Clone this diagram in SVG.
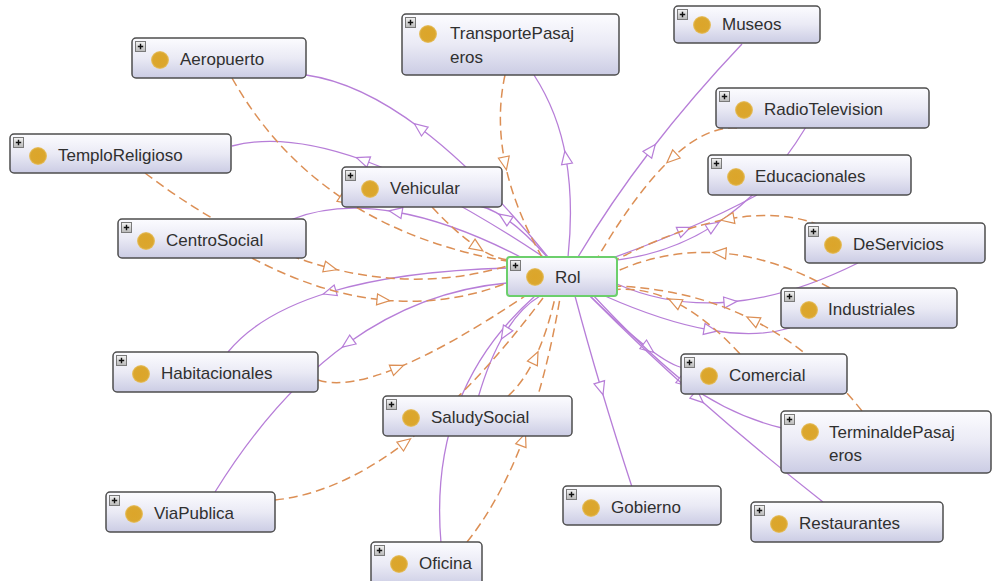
<svg xmlns="http://www.w3.org/2000/svg" xmlns:xlink="http://www.w3.org/1999/xlink" width="992" height="581" viewBox="0 0 992 581">
  <defs>
    <linearGradient id="boxfill" x1="0" y1="0" x2="0" y2="1">
      <stop offset="0" stop-color="#fcfcff"/>
      <stop offset="0.5" stop-color="#eaeaf5"/>
      <stop offset="1" stop-color="#cbcce4"/>
    </linearGradient>
    <linearGradient id="plusfill" x1="0" y1="0" x2="0" y2="1">
      <stop offset="0" stop-color="#f4f4f4"/>
      <stop offset="1" stop-color="#b8b8b8"/>
    </linearGradient>
    <radialGradient id="dotfill" cx="0.5" cy="0.5" r="0.5">
      <stop offset="0" stop-color="#dca52a"/>
      <stop offset="0.8" stop-color="#dba72e"/>
      <stop offset="1" stop-color="#e8c46e"/>
    </radialGradient>
    <!-- hollow triangle arrowheads, placed at the interior vertex of each edge -->
    <marker id="ap" viewBox="-10 -10 20 20" markerWidth="20" markerHeight="20" refX="0" refY="0" orient="auto" markerUnits="userSpaceOnUse">
      <path d="M7,0 L-6,-5.5 L-6,5.5 Z" fill="#ffffff" stroke="#b77ed8" stroke-width="1.2"/>
    </marker>
    <marker id="ao" viewBox="-10 -10 20 20" markerWidth="20" markerHeight="20" refX="0" refY="0" orient="auto" markerUnits="userSpaceOnUse">
      <path d="M7,0 L-6,-5.5 L-6,5.5 Z" fill="#ffffff" stroke="#dc8f55" stroke-width="1.2"/>
    </marker>
    <g id="plus">
      <rect x="3.5" y="3.5" width="10" height="10" fill="url(#plusfill)" stroke="#7a7a7a" stroke-width="1"/>
      <path d="M5.8,8.5h5.4M8.5,5.8v5.4" stroke="#111" stroke-width="1.4"/>
    </g>
  </defs>
  <style>
    .p { fill: none; stroke: #b77ed8; stroke-width: 1.3; marker-mid: url(#ap); }
    .o { fill: none; stroke: #dc8f55; stroke-width: 1.5; stroke-dasharray: 9 5; marker-mid: url(#ao); }
    .box { fill: url(#boxfill); stroke: #4e4e4e; stroke-width: 1.5; }
    .sel { fill: url(#boxfill); stroke: #6ccf6c; stroke-width: 2; }
    .dot { fill: url(#dotfill); }
    .lbl { font-family: "Liberation Sans", Arial, sans-serif; font-size: 17px; fill: #303030; }
  </style>
  <rect width="992" height="581" fill="#ffffff"/>

  <!-- connectors: purple = subclass arcs (Rol outward), orange dashed = other relations (towards Rol) -->
  <g id="edges">
    <path class="p" d="M548,257 Q480.5,173.5 420,128 Q359.5,82.5 306,75"/>
    <path class="p" d="M568,257 Q573.75,203.5 566,158 Q558.25,112.5 534,75"/>
    <path class="p" d="M578,257 Q610,203.25 651,150 Q692,96.75 742,44"/>
    <path class="p" d="M592,262 Q659.5,259.75 713,226 Q766.5,192.25 806,127"/>
    <path class="p" d="M590,266 Q642.25,247.75 684,230 Q725.75,212.25 757,195"/>
    <path class="p" d="M545,258 Q441.25,188.75 363,160 Q284.75,132 232,146"/>
    <path class="p" d="M548,258 Q524.5,231.25 505,218 Q485.5,204.75 470,205"/>
    <path class="p" d="M530,262 Q456,222.5 396,212 Q336,201.5 290,220"/>
    <path class="p" d="M508,268 Q400,271 330,292 Q260,313 228,352"/>
    <path class="p" d="M507,283 Q421,290.75 348,343 Q275,395.25 215,492"/>
    <path class="p" d="M535,296 Q481.5,343.25 458,405 Q434.5,466.75 441,543"/>
    <path class="p" d="M540,296 Q520.5,307.5 505,333 Q489.5,358.5 478,398"/>
    <path class="p" d="M575,296 Q586.75,340.25 601,388 Q615.25,435.75 632,487"/>
    <path class="p" d="M590,296 Q624.5,330 648,348 Q671.5,366 684,368"/>
    <path class="p" d="M592,294 Q640,346 684,382 Q731.5,416 782,428"/>
    <path class="p" d="M590,296 Q639.75,346.5 698,398 Q756.25,449.5 823,502"/>
    <path class="p" d="M617,284 Q669.75,307.25 730,302 Q790.25,296.75 858,263"/>
    <path class="p" d="M605,296 Q663.75,322 710,330 Q756.25,338 790,328"/>

    <path class="o" d="M232,78 Q275,154 345,200 Q415,246 512,262"/>
    <path class="o" d="M145,173 Q239.5,244.75 330,268 Q420.5,291.25 507,266"/>
    <path class="o" d="M252,258 Q319.25,293.75 383,300 Q446.75,306.25 507,283"/>
    <path class="o" d="M505,75 Q495.75,117.5 505,163 Q514.25,208.5 542,257"/>
    <path class="o" d="M432,207 Q457,233.75 477,247 Q497,260.25 512,260"/>
    <path class="o" d="M737,128 Q706.75,125.75 672,158 Q637.25,190.25 598,257"/>
    <path class="o" d="M820,225 Q780,209.75 728,219 Q676,228.25 612,262"/>
    <path class="o" d="M830,288 Q773.75,257 720,253 Q666.25,249 615,272"/>
    <path class="o" d="M862,411 Q814.75,351.25 753,320 Q691.25,288.75 615,286"/>
    <path class="o" d="M740,354 Q707,318 675,302 Q643,286 612,290"/>
    <path class="o" d="M318,380 Q345.25,389 397,368 Q448.75,347 525,296"/>
    <path class="o" d="M275,500 Q338,493.5 405,443 Q472,392.5 543,298"/>
    <path class="o" d="M467,542 Q499.75,501 523,440 Q546.25,379 560,298"/>
    <path class="o" d="M508,396 Q523.25,382.5 535,358 Q546.75,333.5 555,298"/>
  </g>

  <g id="n-aeropuerto" transform="translate(132,38)">
    <rect class="box" width="174" height="40" rx="4"/><use href="#plus"/>
    <circle class="dot" cx="28" cy="22" r="9"/><text class="lbl" x="48" y="27">Aeropuerto</text>
  </g>
  <g id="n-transportepasajeros" transform="translate(402,14)">
    <rect class="box" width="217" height="61" rx="4"/><use href="#plus"/>
    <circle class="dot" cx="26" cy="20" r="9"/>
    <text class="lbl" x="48" y="25">TransportePasaj</text><text class="lbl" x="48" y="49">eros</text>
  </g>
  <g id="n-museos" transform="translate(674,6)">
    <rect class="box" width="146" height="37" rx="4"/><use href="#plus"/>
    <circle class="dot" cx="28" cy="19" r="9"/><text class="lbl" x="48" y="24">Museos</text>
  </g>
  <g id="n-radiotelevision" transform="translate(716,88)">
    <rect class="box" width="213" height="40" rx="4"/><use href="#plus"/>
    <circle class="dot" cx="28" cy="22" r="9"/><text class="lbl" x="48" y="27">RadioTelevision</text>
  </g>
  <g id="n-temploreligioso" transform="translate(10,134)">
    <rect class="box" width="221" height="39" rx="4"/><use href="#plus"/>
    <circle class="dot" cx="28" cy="22" r="9"/><text class="lbl" x="48" y="27">TemploReligioso</text>
  </g>
  <g id="n-vehicular" transform="translate(342,167)">
    <rect class="box" width="160" height="40" rx="4"/><use href="#plus"/>
    <circle class="dot" cx="28" cy="22" r="9"/><text class="lbl" x="48" y="27">Vehicular</text>
  </g>
  <g id="n-educacionales" transform="translate(708,155)">
    <rect class="box" width="203" height="40" rx="4"/><use href="#plus"/>
    <circle class="dot" cx="28" cy="22" r="9"/><text class="lbl" x="47" y="27">Educacionales</text>
  </g>
  <g id="n-centrosocial" transform="translate(118,219)">
    <rect class="box" width="188" height="39" rx="4"/><use href="#plus"/>
    <circle class="dot" cx="28" cy="22" r="9"/><text class="lbl" x="48" y="27">CentroSocial</text>
  </g>
  <g id="n-deservicios" transform="translate(805,223)">
    <rect class="box" width="180" height="40" rx="4"/><use href="#plus"/>
    <circle class="dot" cx="28" cy="22" r="9"/><text class="lbl" x="48" y="27">DeServicios</text>
  </g>
  <g id="n-rol" transform="translate(507,257)">
    <rect class="sel" width="110" height="39" rx="3"/><use href="#plus"/>
    <circle class="dot" cx="28" cy="20" r="9"/><text class="lbl" x="48" y="26">Rol</text>
  </g>
  <g id="n-industriales" transform="translate(781,288)">
    <rect class="box" width="176" height="40" rx="4"/><use href="#plus"/>
    <circle class="dot" cx="28" cy="22" r="9"/><text class="lbl" x="47" y="27">Industriales</text>
  </g>
  <g id="n-habitacionales" transform="translate(113,352)">
    <rect class="box" width="205" height="40" rx="4"/><use href="#plus"/>
    <circle class="dot" cx="28" cy="22" r="9"/><text class="lbl" x="48" y="27">Habitacionales</text>
  </g>
  <g id="n-comercial" transform="translate(681,354)">
    <rect class="box" width="166" height="40" rx="4"/><use href="#plus"/>
    <circle class="dot" cx="28" cy="22" r="9"/><text class="lbl" x="48" y="27">Comercial</text>
  </g>
  <g id="n-saludysocial" transform="translate(383,396)">
    <rect class="box" width="189" height="40" rx="4"/><use href="#plus"/>
    <circle class="dot" cx="28" cy="22" r="9"/><text class="lbl" x="48" y="27">SaludySocial</text>
  </g>
  <g id="n-terminaldepasajeros" transform="translate(781,411)">
    <rect class="box" width="210" height="62" rx="4"/><use href="#plus"/>
    <circle class="dot" cx="29" cy="21" r="9"/>
    <text class="lbl" x="48" y="27">TerminaldePasaj</text><text class="lbl" x="48" y="50">eros</text>
  </g>
  <g id="n-viapublica" transform="translate(106,492)">
    <rect class="box" width="169" height="40" rx="4"/><use href="#plus"/>
    <circle class="dot" cx="28" cy="22" r="9"/><text class="lbl" x="48" y="27">ViaPublica</text>
  </g>
  <g id="n-gobierno" transform="translate(563,486)">
    <rect class="box" width="158" height="39" rx="4"/><use href="#plus"/>
    <circle class="dot" cx="28" cy="22" r="9"/><text class="lbl" x="48" y="27">Gobierno</text>
  </g>
  <g id="n-restaurantes" transform="translate(751,502)">
    <rect class="box" width="192" height="40" rx="4"/><use href="#plus"/>
    <circle class="dot" cx="28" cy="22" r="9"/><text class="lbl" x="48" y="27">Restaurantes</text>
  </g>
  <g id="n-oficina" transform="translate(371,542)">
    <rect class="box" width="111" height="45" rx="4"/><use href="#plus"/>
    <circle class="dot" cx="28" cy="22" r="9"/><text class="lbl" x="48" y="27">Oficina</text>
  </g>
</svg>
